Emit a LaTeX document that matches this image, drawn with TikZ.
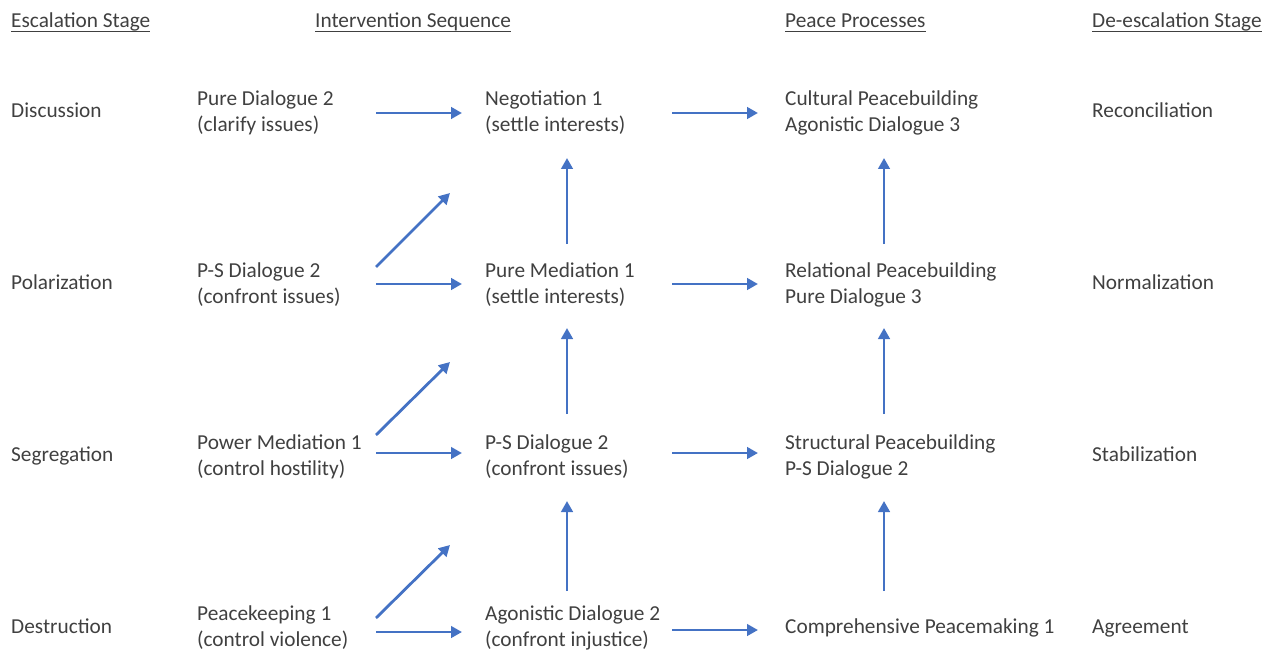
\documentclass[tikz,border=0pt]{standalone}
\usepackage{fontspec}
\setmainfont{Carlito}
\usetikzlibrary{arrows.meta}
\definecolor{txt}{RGB}{64,64,64}
\definecolor{arrc}{RGB}{68,114,196}
\begin{document}
\begin{tikzpicture}[x=1pt,y=-1pt,
  lbl/.style={anchor=west, inner sep=0pt, align=left, font=\fontsize{21.3}{26}\selectfont, text=txt},
  one/.style={anchor=base west, inner sep=0pt, font=\fontsize{21.3}{26}\selectfont, text=txt},
  hdr/.style={anchor=base west, inner sep=0pt, font=\fontsize{21.3}{26}\selectfont, text=txt},
  uline/.style={draw=txt, line width=0.9pt},
  conn/.style={draw=arrc, line width=2.8pt, -{Triangle[length=11pt,width=11.5pt]}}]
\useasboundingbox (0,0) rectangle (1270,650);
% headers
\node[hdr] (h0) at (11,27.5) {Escalation Stage};
\node[hdr] (h1) at (315,27.5) {Intervention Sequence};
\node[hdr] (h2) at (785,27.5) {Peace Processes};
\node[hdr] (h3) at (1092,27.5) {De-escalation Stage};
\foreach \h in {h0,h1,h2,h3}{\draw[uline] ([yshift=-3.5pt]\h.base west) -- ([yshift=-3.5pt]\h.base east);}
% column 0
\node[one] (e1) at (11,118) {Discussion};
\node[one] (e2) at (11,289) {Polarization};
\node[one] (e3) at (11,461) {Segregation};
\node[one] (e4) at (11,633) {Destruction};
% column 1
\node[lbl] (a1) at (197,113) {Pure Dialogue 2\\(clarify issues)};
\node[lbl] (a2) at (197,285) {P-S Dialogue 2\\(confront issues)};
\node[lbl] (a3) at (197,457) {Power Mediation 1\\(control hostility)};
\node[lbl] (a4) at (197,628) {Peacekeeping 1\\(control violence)};
% column 2
\node[lbl] (b1) at (485,113) {Negotiation 1\\(settle interests)};
\node[lbl] (b2) at (485,285) {Pure Mediation 1\\(settle interests)};
\node[lbl] (b3) at (485,457) {P-S Dialogue 2\\(confront issues)};
\node[lbl] (b4) at (485,628) {Agonistic Dialogue 2\\(confront injustice)};
% column 3
\node[lbl] (c1) at (785,113) {Cultural Peacebuilding\\Agonistic Dialogue 3};
\node[lbl] (c2) at (785,285) {Relational Peacebuilding\\Pure Dialogue 3};
\node[lbl] (c3) at (785,457) {Structural Peacebuilding\\P-S Dialogue 2};
\node[one] (c4) at (785,633) {Comprehensive Peacemaking 1};
% column 4
\node[one] (d1) at (1092,118) {Reconciliation};
\node[one] (d2) at (1092,289) {Normalization};
\node[one] (d3) at (1092,461) {Stabilization};
\node[one] (d4) at (1092,633) {Agreement};
% arrow end points
\coordinate (ha1s) at (376,113); \coordinate (ha1e) at (462,113);
\coordinate (hb1s) at (672,113); \coordinate (hb1e) at (758,113);
\coordinate (ha2s) at (376,284); \coordinate (ha2e) at (462,284);
\coordinate (hb2s) at (672,284); \coordinate (hb2e) at (758,284);
\coordinate (ha3s) at (376,453); \coordinate (ha3e) at (462,453);
\coordinate (hb3s) at (672,453); \coordinate (hb3e) at (758,453);
\coordinate (ha4s) at (376,632); \coordinate (ha4e) at (462,632);
\coordinate (hb4s) at (672,630); \coordinate (hb4e) at (758,630);
\coordinate (vb1s) at (567,244); \coordinate (vb1e) at (567,158);
\coordinate (vb2s) at (567,414); \coordinate (vb2e) at (567,328);
\coordinate (vb3s) at (567,591); \coordinate (vb3e) at (567,501);
\coordinate (vc1s) at (884,244); \coordinate (vc1e) at (884,158);
\coordinate (vc2s) at (884,414); \coordinate (vc2e) at (884,328);
\coordinate (vc3s) at (884,591); \coordinate (vc3e) at (884,501);
\coordinate (da2s) at (376,267); \coordinate (da2e) at (450,193);
\coordinate (da3s) at (376,435); \coordinate (da3e) at (450,362);
\coordinate (da4s) at (376,618); \coordinate (da4e) at (450,545);
% arrows
\foreach \n in {ha1,hb1,ha2,hb2,ha3,hb3,ha4,hb4,vb1,vb2,vb3,vc1,vc2,vc3,da2,da3,da4}{\draw[conn] (\n s) -- (\n e);}
\end{tikzpicture}
\end{document}
